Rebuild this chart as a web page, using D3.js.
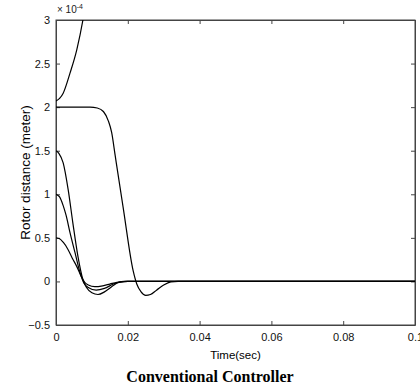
<!DOCTYPE html>
<html>
<head>
<meta charset="utf-8">
<script src="https://cdn.jsdelivr.net/npm/d3@7"></script>
<style>
  body { margin: 0; background: #fff; }
  svg { display: block; }
  .tick text { font-family: "Liberation Sans", Arial, sans-serif; font-size: 11px; fill: #111; }
</style>
</head>
<body>
<div id="chart"></div>
<script>
// response curves, values in units of 1e-4 m, time in seconds
const curveUnstable = [[0, 2.07], [0.001, 2.1], [0.002, 2.16], [0.0039, 2.39], [0.0058, 2.66], [0.0075, 3.0], [0.0085, 3.25]];
const curveFrom2 = [[0, 2.0], [0.0095, 2.0], [0.0115, 1.99], [0.0132, 1.95], [0.0146, 1.84], [0.0155, 1.71], [0.0165, 1.44],
  [0.0187, 0.85], [0.0215, 0.12], [0.0225, -0.03], [0.0237, -0.12], [0.025, -0.16], [0.0263, -0.15], [0.028, -0.1],
  [0.03, -0.04], [0.032, -0.005], [0.034, 0], [0.1, 0]];
const curveFrom15 = [[0, 1.5], [0.0008, 1.47], [0.002, 1.36], [0.0034, 1.05], [0.0047, 0.67], [0.0061, 0.29], [0.0075, 0.02],
  [0.0085, -0.07], [0.01, -0.13], [0.0117, -0.15], [0.0135, -0.12], [0.0155, -0.06], [0.0175, -0.01], [0.02, 0], [0.1, 0]];
const curveFrom1 = [[0, 1.0], [0.001, 0.97], [0.002, 0.87], [0.0028, 0.76], [0.0039, 0.56], [0.0053, 0.33], [0.0067, 0.1],
  [0.0078, -0.02], [0.009, -0.07], [0.0112, -0.1], [0.0135, -0.08], [0.016, -0.03], [0.018, -0.005], [0.02, 0], [0.1, 0]];
const curveFrom05 = [[0, 0.5], [0.001, 0.49], [0.002, 0.45], [0.0033, 0.37], [0.0045, 0.27], [0.0058, 0.17], [0.007, 0.06],
  [0.008, -0.01], [0.009, -0.04], [0.0108, -0.06], [0.013, -0.05], [0.015, -0.03], [0.017, -0.01], [0.019, 0], [0.1, 0]];

const xTicks = [0, 0.02, 0.04, 0.06, 0.08, 0.1];
const yTicks = [-0.5, 0, 0.5, 1, 1.5, 2, 2.5, 3];

const width = 420, height = 388;
const margin = { top: 20, right: 5, bottom: 63, left: 56 };
const iw = width - margin.left - margin.right;
const ih = height - margin.top - margin.bottom;

const svg = d3.select('#chart').append('svg')
  .attr('width', width)
  .attr('height', height);

const x = d3.scaleLinear().domain([0, 0.1]).range([0, iw]);
const y = d3.scaleLinear().domain([-0.5, 3]).range([ih, 0]);

const g = svg.append('g').attr('transform', `translate(${margin.left},${margin.top})`);

g.append('clipPath').attr('id', 'clip')
  .append('rect').attr('width', iw).attr('height', ih);

// axes with inward ticks on all four sides
const fmtX = d => d === 0 ? '0' : d3.format('.2~f')(d);
g.append('g').attr('transform', `translate(0,${ih})`)
  .call(d3.axisBottom(x).tickValues(xTicks).tickFormat(fmtX).tickSizeInner(-4).tickSizeOuter(0).tickPadding(8));
g.append('g')
  .call(d3.axisTop(x).tickValues(xTicks).tickFormat('').tickSizeInner(-4).tickSizeOuter(0));
g.append('g')
  .call(d3.axisLeft(y).tickValues(yTicks).tickFormat(d3.format('~g')).tickSizeInner(-4).tickSizeOuter(0).tickPadding(6));
g.append('g').attr('transform', `translate(${iw},0)`)
  .call(d3.axisRight(y).tickValues(yTicks).tickFormat('').tickSizeInner(-4).tickSizeOuter(0));

g.selectAll('.domain, .tick line').attr('stroke', '#444');

g.append('rect')
  .attr('width', iw).attr('height', ih)
  .attr('fill', 'none').attr('stroke', '#444');

const line = d3.line()
  .x(d => x(d[0]))
  .y(d => y(d[1]))
  .curve(d3.curveMonotoneX);

g.append('g').attr('clip-path', 'url(#clip)')
  .selectAll('path')
  .data([curveUnstable, curveFrom2, curveFrom15, curveFrom1, curveFrom05])
  .join('path')
  .attr('d', line)
  .attr('fill', 'none')
  .attr('stroke', '#000')
  .attr('stroke-width', 1.2);

// exponent marker
const expo = svg.append('text')
  .attr('x', margin.left + 1).attr('y', 13)
  .attr('font-family', '"Liberation Sans", Arial, sans-serif')
  .attr('font-size', 10).attr('fill', '#222');
expo.append('tspan').text('× 10');
expo.append('tspan').attr('font-size', 7).attr('dy', -4).text('-4');

svg.append('text')
  .attr('transform', `translate(30,${margin.top + ih / 2}) rotate(-90)`)
  .attr('text-anchor', 'middle')
  .attr('font-family', '"Liberation Sans", Arial, sans-serif')
  .attr('font-size', 13.5)
  .text('Rotor distance (meter)');

svg.append('text')
  .attr('x', margin.left + iw / 2).attr('y', 359)
  .attr('text-anchor', 'middle')
  .attr('font-family', '"Liberation Sans", Arial, sans-serif')
  .attr('font-size', 11.5)
  .text('Time(sec)');

svg.append('text')
  .attr('x', width / 2).attr('y', 382)
  .attr('text-anchor', 'middle')
  .attr('font-family', '"Liberation Serif", "Times New Roman", serif')
  .attr('font-weight', 'bold')
  .attr('font-size', 16)
  .text('Conventional Controller');
</script>
</body>
</html>
